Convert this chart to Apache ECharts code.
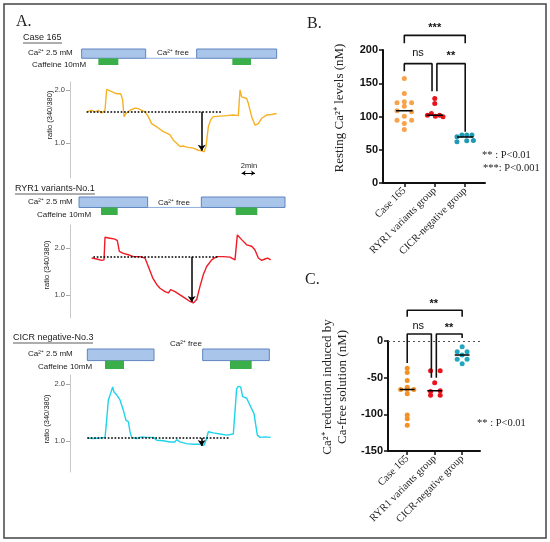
<!DOCTYPE html>
<html>
<head>
<meta charset="utf-8">
<script src="https://cdn.jsdelivr.net/npm/echarts@6/dist/echarts.min.js"></script>
<style>
html, body { margin: 0; padding: 0; background: #fff; }
#chart { width: 550px; height: 542px; }
</style>
</head>
<body>
<div id="chart"></div>
<script>
// ---- panel A : ratio traces, [time (min), ratio 340/380] ----
var case165Trace = [[2.5,1.59],[3.25,1.62],[3.75,1.59],[4.25,1.62],[4.75,1.57],[5.25,1.62],[5.5,2.01],[6.25,1.97],[6.75,1.94],[7.25,1.93],[7.6,1.93],[7.9,1.81],[8.1,1.5],[8.4,1.56],[9,1.62],[9.75,1.66],[10.25,1.65],[10.75,1.62],[11.25,1.59],[11.75,1.5],[12.25,1.37],[13,1.31],[14,1.22],[14.5,1.19],[15,1.16],[15.5,1.06],[16,1.0],[16.5,0.94],[17,0.95],[17.5,0.93],[18,0.92],[18.5,0.91],[19.25,0.87],[19.75,0.86],[20.1,0.84],[20.4,0.94],[20.75,1.31],[21.1,1.44],[21.5,1.5],[22.5,1.51],[23.5,1.52],[24.5,1.53],[25.25,1.52],[25.5,2.0],[25.75,1.87],[26.5,1.84],[26.75,1.75],[27.25,1.5],[27.75,1.34],[28.25,1.37],[28.75,1.47],[29.5,1.53],[30.25,1.54],[31,1.56]];
var ryr1Trace = [[3.25,1.79],[4,1.77],[4.75,1.74],[5.1,1.75],[5.25,2.23],[6,2.21],[6.75,2.19],[7.1,2.16],[7.4,1.93],[8,1.89],[8.75,1.86],[9.5,1.82],[10.5,1.82],[11.25,1.79],[11.75,1.61],[12.4,1.37],[13,1.23],[13.5,1.15],[14.25,1.08],[14.75,1.05],[15.1,1.12],[15.75,1.08],[16.5,1.01],[17.25,0.94],[18,0.87],[18.5,0.84],[19,0.91],[19.5,1.19],[20,1.44],[20.5,1.61],[21.25,1.75],[22,1.82],[23,1.82],[24,1.81],[24.75,1.75],[25.1,2.28],[25.75,2.18],[26.5,2.07],[27.25,2.04],[27.75,1.96],[28.25,1.79],[28.75,1.74],[29.25,1.77],[29.65,1.79],[30.1,1.75]];
var cicrTrace = [[2.6,1.05],[3.5,1.04],[4.5,1.05],[5.25,1.06],[5.5,1.36],[5.75,1.72],[6.1,1.84],[6.4,1.95],[6.6,1.86],[7,1.81],[7.5,1.72],[8,1.54],[8.4,1.36],[8.75,1.34],[9,1.16],[9.25,1.06],[10,1.04],[10.75,1.07],[11.5,1.06],[12.5,1.06],[13,1.01],[14,1.0],[15,0.98],[15.75,0.98],[16,1.02],[16.5,0.98],[17.5,0.95],[18.5,0.94],[19.5,0.94],[20.1,0.92],[20.4,1.01],[20.75,1.16],[21.5,1.14],[22.5,1.12],[23.5,1.1],[24.5,1.12],[25,1.92],[25.25,1.96],[25.6,1.95],[25.9,1.78],[26.5,1.75],[27.1,1.6],[27.6,1.48],[27.9,1.45],[28.1,1.1],[28.5,1.06],[29.25,1.07],[30.1,1.06]];

// baseline [from, to, level] and drop arrow [time, from, to]
var case165Baseline = [2.5, 22.75, 1.59];
var case165Drop = [19.75, 1.59, 0.86];
var ryr1Baseline = [3.5, 22.25, 1.82];
var ryr1Drop = [18.25, 1.82, 0.86];
var cicrBaseline = [2.6, 24, 1.05];
var cicrDrop = [19.75, 1.05, 0.91];
var scaleBar = [25.75, 27.75, 0.44]; // 2 min

// protocol periods [start, end] in minutes
var case165Calcium = [[1.75, 11.35], [19, 31]];
var case165Caffeine = [[4.25, 7.25], [24.35, 27.15]];
var case165Free = [[11.35, 19]];
var ryr1Calcium = [[1.35, 11.65], [19.7, 32.25]];
var ryr1Caffeine = [[4.65, 7.15], [24.85, 28.1]];
var ryr1Free = [[11.65, 19.7]];
var cicrCalcium = [[2.6, 12.6], [19.9, 29.9]];
var cicrCaffeine = [[5.25, 8.1], [24, 27.25]];
var cicrFree = [];

var ratioTicks = [1, 2];

// ---- panels B and C : [jitter, value] ----
var groupNames = ['Case 165', 'RYR1 variants group', 'CICR-negative group'];
var restCase = [[0,157],[0,134.5],[0,122],[-0.24,120.5],[0.24,120.5],[0,115.5],[-0.24,108.5],[0.24,107],[0,100.5],[-0.24,94.5],[0.24,94.5],[0,89.5],[0,80.5]];
var restRyr1 = [[0,127],[0,119.5],[-0.24,102],[-0.11,104.5],[0.02,100.5],[0.16,102],[0.27,99.5]];
var restCicr = [[-0.27,69.5],[-0.11,72],[0.05,72],[0.22,72],[-0.27,62],[0.05,63.5],[0.27,64]];
var restMedians = [108.5, 102, 69];
var dropCase = [[0,-37],[0,-43],[0,-54],[0,-63],[-0.24,-66],[0,-66],[0.24,-66],[0,-72],[0,-101],[0,-106],[0,-115]];
var dropRyr1 = [[-0.15,-40.5],[0.2,-40.5],[0,-57],[-0.15,-69],[0.2,-68],[-0.15,-74],[0.2,-74]];
var dropCicr = [[0,-8],[-0.18,-14.5],[0.18,-14.5],[0,-19],[-0.18,-25],[0.18,-25],[0,-31]];
var dropMedians = [-66, -68, -19];

// significance brackets
var restBrackets = [
    [[1,210],[1,222],[3,222],[3,210]],
    [[1,168],[1,179.5],[1.91,179.5],[1.91,138]],
    [[2.07,138],[2.07,179.5],[3,179.5],[3,77]]
];
var restSigLabels = [[2, 233, '***'], [1.45, 196, 'ns'], [2.53, 191, '**']];
var dropBrackets = [
    [[1,33],[1,42],[3,42],[3,33]],
    [[1,-30],[1,9.5],[1.88,9.5],[1.88,-50]],
    [[2.06,-50],[2.06,9.5],[3,9.5],[3,4]]
];
var dropSigLabels = [[1.97, 50, '**'], [1.4, 21, 'ns'], [2.52, 18, '**']];

var sans = 'Liberation Sans';
var serif = 'Liberation Serif';

function protocolData(ca, caf, free) {
    var arr = [];
    free.forEach(function (p) { arr.push([p[0], p[1], 2]); });
    ca.forEach(function (p) { arr.push([p[0], p[1], 0]); });
    caf.forEach(function (p) { arr.push([p[0], p[1], 1]); });
    return arr;
}

function renderProtocol(params, api) {
    var s = api.value(0), e = api.value(1), k = api.value(2);
    var split = 0.42;
    if (k === 2) {
        var a = api.coord([s, split]), b = api.coord([e, split]);
        return { type: 'line', shape: { x1: a[0], y1: a[1], x2: b[0], y2: b[1] },
            style: { stroke: '#8fb0dd', lineWidth: 1 } };
    }
    var p0 = api.coord([s, k === 0 ? 1 : split]);
    var p1 = api.coord([e, k === 0 ? split : 0]);
    return {
        type: 'rect',
        shape: { x: p0[0], y: p0[1], width: p1[0] - p0[0], height: p1[1] - p0[1] },
        style: k === 0 ? { fill: '#a9c5ea', stroke: '#5f84bf', lineWidth: 1 } : { fill: '#3aae49' }
    };
}

function traceMarks(base, drop, extra) {
    var data = [
        [{ coord: [base[0], base[2]], lineStyle: { type: 'dotted', color: '#000', width: 1.7 } }, { coord: [base[1], base[2]] }],
        [{ coord: [drop[0], drop[1]], lineStyle: { type: 'solid', color: '#000', width: 1.5 } }, { coord: [drop[0], drop[2]], symbol: 'arrow', symbolSize: 6 }]
    ];
    if (extra) data.push(extra);
    return { silent: true, animation: false, symbol: ['none', 'none'], label: { show: false }, data: data };
}

function bracketSeries(list, xi, yi) {
    return list.map(function (pts) {
        return { type: 'line', xAxisIndex: xi, yAxisIndex: yi, data: pts, showSymbol: false, symbol: 'none',
            clip: false, lineStyle: { color: '#111', width: 1.6 }, z: 5 };
    });
}

function sigText(list, xi, yi) {
    return {
        type: 'custom', xAxisIndex: xi, yAxisIndex: yi, clip: false, z: 6,
        data: list.map(function (d) { return [d[0], d[1], d[2]]; }),
        renderItem: function (params, api) {
            var p = api.coord([api.value(0), api.value(1)]);
            var t = list[params.dataIndex][2];
            return { type: 'text', x: p[0], y: p[1], style: {
                text: t, textAlign: 'center', textVerticalAlign: 'middle',
                font: (t === 'ns' ? '11px ' : 'bold 11px ') + sans, fill: '#111' } };
        }
    };
}

function dots(list, cat, color, xi, yi) {
    return { type: 'scatter', xAxisIndex: xi, yAxisIndex: yi, symbolSize: 5,
        itemStyle: { color: color, opacity: 1 },
        data: list.map(function (d) { return [cat + d[0], d[1]]; }), z: 3 };
}

function medianSeries(meds, xi, yi) {
    return meds.map(function (m, i) {
        return { type: 'line', xAxisIndex: xi, yAxisIndex: yi, symbol: 'none',
            data: [[i + 1 - 0.27, m], [i + 1 + 0.27, m]], lineStyle: { color: '#000', width: 1.5 }, z: 4 };
    });
}

var chart = echarts.init(document.getElementById('chart'));

var hiddenX = { type: 'value', min: 0, max: 33, show: false };
function ratioAxis(gi, min, max) {
    return { type: 'value', gridIndex: gi, min: min, max: max,
        axisLine: { show: true, lineStyle: { color: '#c8c8c8', width: 1 } },
        axisTick: { show: true, customValues: ratioTicks, length: 4, lineStyle: { color: '#aaa' } },
        axisLabel: { customValues: ratioTicks, formatter: function (v) { return v.toFixed(1); },
            fontSize: 7.5, color: '#444', fontFamily: sans, margin: 5 },
        splitLine: { show: false } };
}
function protoAxis(gi) { return { type: 'value', gridIndex: gi, min: 0, max: 1, show: false }; }

function groupXAxis(gi) {
    return { type: 'value', gridIndex: gi, min: 0.3, max: 3.65,
        axisLine: { show: true, onZero: false, lineStyle: { color: '#111', width: 2 } },
        axisTick: { show: true, customValues: [1, 2, 3], length: 4, lineStyle: { color: '#111', width: 1.5 } },
        axisLabel: { customValues: [1, 2, 3], rotate: 45, margin: 6, fontFamily: serif, fontSize: 10.5, color: '#222',
            formatter: function (v) { return groupNames[Math.round(v) - 1]; } },
        splitLine: { show: false } };
}
function groupYAxis(gi, min, max) {
    return { type: 'value', gridIndex: gi, min: min, max: max, interval: 50,
        axisLine: { show: true, lineStyle: { color: '#111', width: 2 } },
        axisTick: { show: true, length: 4, lineStyle: { color: '#111', width: 1.5 } },
        axisLabel: { fontFamily: sans, fontWeight: 'bold', fontSize: 11, color: '#111', margin: 5 },
        splitLine: { show: false } };
}

function txt(x, y, s, font, opts) {
    var o = { type: 'text', x: x, y: y, style: { text: s, font: font, fill: '#222',
        textAlign: 'left', textVerticalAlign: 'middle' } };
    if (opts) { for (var k in opts) o.style[k] = opts[k]; }
    return o;
}
function vtxt(x, y, s, font) {
    return { type: 'text', x: x, y: y, rotation: Math.PI / 2,
        style: { text: s, font: font, fill: '#222', textAlign: 'center', textVerticalAlign: 'middle', lineHeight: 15 } };
}
function uline(x1, x2, y) {
    return { type: 'line', shape: { x1: x1, y1: y, x2: x2, y2: y }, style: { stroke: '#333', lineWidth: 0.8 } };
}

var f7 = '8px ' + sans, f8 = '9px ' + sans;

var option = {
    animation: false,
    grid: [
        { left: 70, top: 49, width: 220, height: 16 },
        { left: 70, top: 82, width: 220, height: 96 },
        { left: 70, top: 197, width: 220, height: 18 },
        { left: 70, top: 225, width: 220, height: 93 },
        { left: 70, top: 349, width: 220, height: 20 },
        { left: 70, top: 375, width: 220, height: 97 },
        { left: 383, top: 50, width: 102, height: 133 },
        { left: 388, top: 341, width: 92, height: 110 }
    ],
    xAxis: [
        Object.assign({ gridIndex: 0 }, hiddenX), Object.assign({ gridIndex: 1 }, hiddenX),
        Object.assign({ gridIndex: 2 }, hiddenX), Object.assign({ gridIndex: 3 }, hiddenX),
        Object.assign({ gridIndex: 4 }, hiddenX), Object.assign({ gridIndex: 5 }, hiddenX),
        groupXAxis(6), groupXAxis(7)
    ],
    yAxis: [
        protoAxis(0), ratioAxis(1, 0.35, 2.15),
        protoAxis(2), ratioAxis(3, 0.52, 2.49),
        protoAxis(4), ratioAxis(5, 0.45, 2.16),
        groupYAxis(6, 0, 200), groupYAxis(7, -150, 0)
    ],
    series: [
        { type: 'custom', xAxisIndex: 0, yAxisIndex: 0, renderItem: renderProtocol, encode: { x: [0, 1], y: 2 },
            data: protocolData(case165Calcium, case165Caffeine, case165Free) },
        { type: 'line', xAxisIndex: 1, yAxisIndex: 1, data: case165Trace, showSymbol: false, symbol: 'none',
            lineStyle: { color: '#f6b224', width: 1.4 },
            markLine: traceMarks(case165Baseline, case165Drop,
                [{ coord: [scaleBar[0], scaleBar[2]], symbol: 'arrow', symbolSize: 4, lineStyle: { type: 'solid', color: '#000', width: 1 } },
                 { coord: [scaleBar[1], scaleBar[2]], symbol: 'arrow', symbolSize: 4 }]) },
        { type: 'custom', xAxisIndex: 2, yAxisIndex: 2, renderItem: renderProtocol, encode: { x: [0, 1], y: 2 },
            data: protocolData(ryr1Calcium, ryr1Caffeine, ryr1Free) },
        { type: 'line', xAxisIndex: 3, yAxisIndex: 3, data: ryr1Trace, showSymbol: false, symbol: 'none',
            lineStyle: { color: '#ee1c25', width: 1.4 }, markLine: traceMarks(ryr1Baseline, ryr1Drop) },
        { type: 'custom', xAxisIndex: 4, yAxisIndex: 4, renderItem: renderProtocol, encode: { x: [0, 1], y: 2 },
            data: protocolData(cicrCalcium, cicrCaffeine, cicrFree) },
        { type: 'line', xAxisIndex: 5, yAxisIndex: 5, data: cicrTrace, showSymbol: false, symbol: 'none',
            lineStyle: { color: '#1fd3ea', width: 1.4 }, markLine: traceMarks(cicrBaseline, cicrDrop) },

        dots(restCase, 1, '#f8a24c', 6, 6),
        dots(restRyr1, 2, '#e8141c', 6, 6),
        dots(restCicr, 3, '#1e9ab3', 6, 6),
        sigText(restSigLabels, 6, 6),

        { type: 'line', xAxisIndex: 7, yAxisIndex: 7, data: [], symbol: 'none',
            markLine: { silent: true, symbol: ['none', 'none'], label: { show: false },
                lineStyle: { type: [2, 3], color: '#555', width: 1 }, data: [{ yAxis: 0 }] } },
        dots(dropCase, 1, '#f49126', 7, 7),
        dots(dropRyr1, 2, '#e8141c', 7, 7),
        dots(dropCicr, 3, '#22a8be', 7, 7),
        sigText(dropSigLabels, 7, 7)
    ].concat(medianSeries(restMedians, 6, 6), bracketSeries(restBrackets, 6, 6),
             medianSeries(dropMedians, 7, 7), bracketSeries(dropBrackets, 7, 7)),
    graphic: [
        { type: 'rect', shape: { x: 4, y: 4, width: 542, height: 534 }, style: { fill: 'none', stroke: '#444', lineWidth: 1.5 } },
        txt(16, 22, 'A.', '16px ' + serif),
        txt(23, 38, 'Case 165', f8), uline(23, 62, 43),
        txt(28, 53, 'Ca²⁺ 2.5 mM', f7), txt(157, 53, 'Ca²⁺ free', f7), txt(32, 65, 'Caffeine 10mM', f7),
        vtxt(50, 115, 'ratio (340/380)', '7.5px ' + sans),
        txt(249, 166, '2min', '7.5px ' + sans, { textAlign: 'center' }),
        txt(15, 189, 'RYR1 variants-No.1', f8), uline(15, 95, 194),
        txt(28, 202, 'Ca²⁺ 2.5 mM', f7), txt(158, 203, 'Ca²⁺ free', f7), txt(37, 215, 'Caffeine 10mM', f7),
        vtxt(47, 265, 'ratio (340/380)', '7.5px ' + sans),
        txt(13, 338, 'CICR negative-No.3', f8), uline(13, 93, 343),
        txt(170, 344, 'Ca²⁺ free', f7), txt(28, 354, 'Ca²⁺ 2.5 mM', f7), txt(38, 367, 'Caffeine 10mM', f7),
        vtxt(47, 419, 'ratio (340/380)', '7.5px ' + sans),
        txt(307, 24, 'B.', '16px ' + serif),
        vtxt(340, 108, 'Resting Ca²⁺ levels (nM)', '13px ' + serif),
        txt(482, 155, '** : P<0.01', '10.5px ' + serif),
        txt(483, 168, '***: P<0.001', '10.5px ' + serif),
        txt(305, 280, 'C.', '16px ' + serif),
        vtxt(335, 387, 'Ca²⁺ reduction induced by\nCa-free solution (nM)', '13px ' + serif),
        txt(477, 423, '** : P<0.01', '10.5px ' + serif)
    ]
};
chart.setOption(option);
</script>
</body>
</html>
